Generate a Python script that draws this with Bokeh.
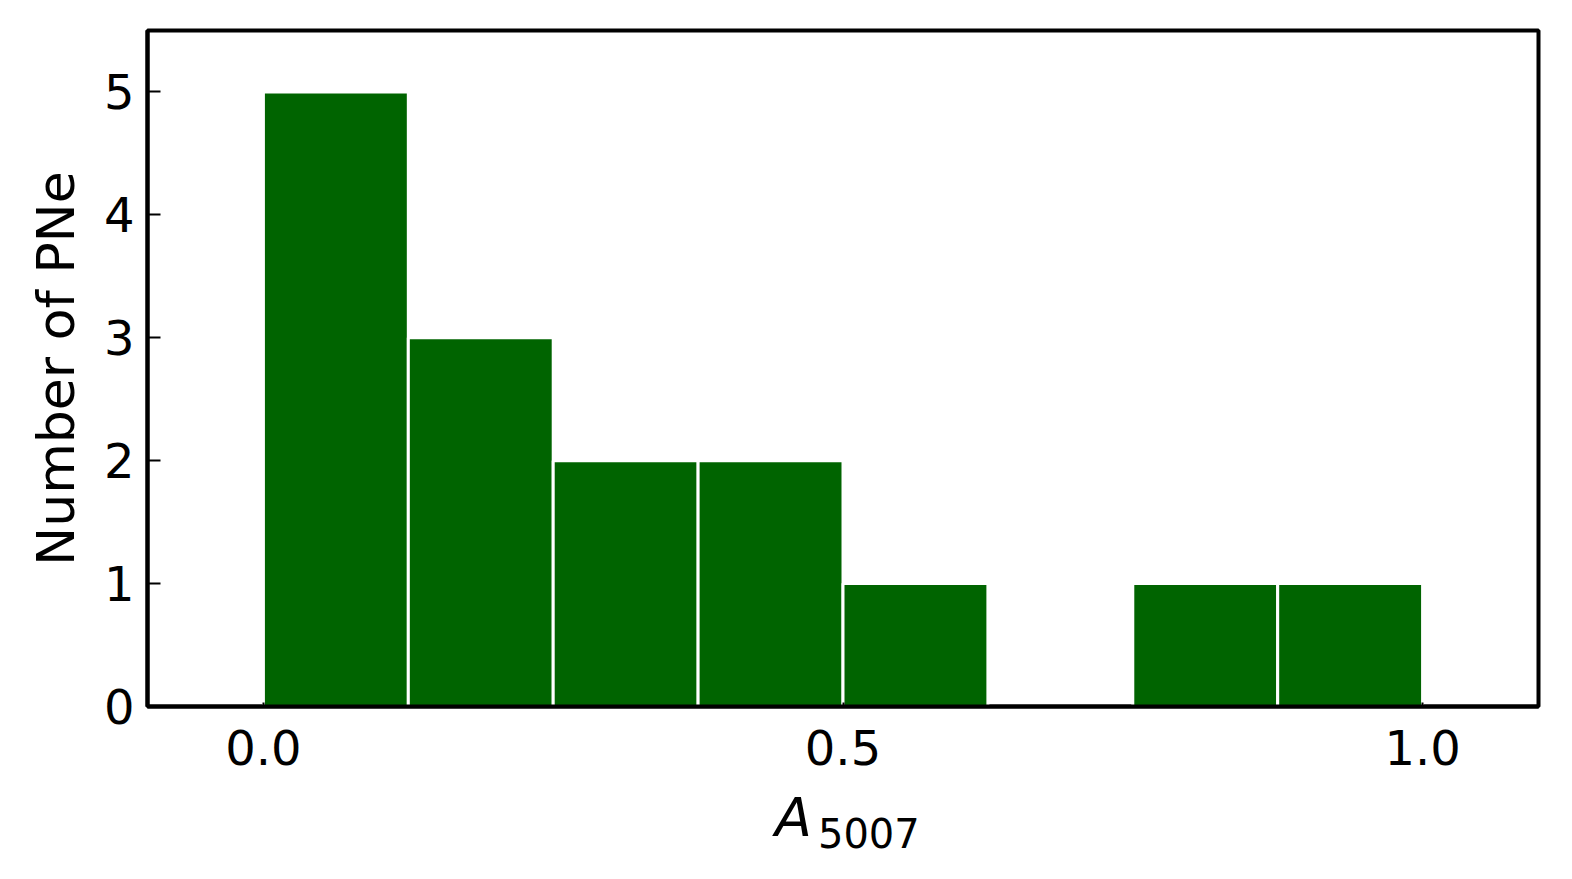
from bokeh.plotting import figure
from bokeh.layouts import column
from bokeh.models import Range1d, FixedTicker, PrintfTickFormatter, ColumnDataSource
from bokeh.core.properties import value
from bokeh.embed import file_html
from bokeh.resources import INLINE

# Histogram data (A_5007 bins)
bin_left = [0.0, 0.125, 0.25, 0.375, 0.5, 0.625, 0.75, 0.875]
bin_right = [0.125, 0.25, 0.375, 0.5, 0.625, 0.75, 0.875, 1.0]
counts = [5, 3, 2, 2, 1, 0, 1, 1]
x_ticks = [0.0, 0.5, 1.0]
y_ticks = [0, 1, 2, 3, 4, 5]

FONT = "DejaVu Sans"
X_RANGE = (-0.1, 1.1)
TOTAL_H = 863
TOP_H = 796
LAB_H = TOTAL_H - TOP_H
FRAME_BOTTOM = 706

p = figure(width=1556, height=TOP_H, output_backend="svg", toolbar_location=None,
           x_range=Range1d(*X_RANGE), y_range=Range1d(0, 5.5),
           min_border_left=147, min_border_right=18, min_border_top=30,
           min_border_bottom=TOP_H - FRAME_BOTTOM)

keep = [i for i, c in enumerate(counts) if c > 0]
src = ColumnDataSource(dict(
    left=[bin_left[i] for i in keep],
    right=[bin_right[i] for i in keep],
    top=[counts[i] for i in keep],
    bottom=[0] * len(keep),
))
p.quad(left="left", right="right", top="top", bottom="bottom", source=src,
       fill_color="#006400", line_color="white", line_width=3)

p.grid.visible = False
p.outline_line_color = "black"
p.outline_line_width = 4

for ax in (p.xaxis[0], p.yaxis[0]):
    ax.axis_line_width = 4
    ax.axis_line_color = "black"
    ax.major_tick_out = 0
    ax.minor_tick_in = 0
    ax.minor_tick_out = 0
    ax.major_tick_line_width = 2
    ax.major_tick_line_color = "black"
    ax.major_label_text_font = FONT
    ax.major_label_text_font_size = "48px"
    ax.major_label_text_color = "black"

p.xaxis[0].ticker = FixedTicker(ticks=x_ticks)
p.xaxis[0].formatter = PrintfTickFormatter(format="%.1f")
p.xaxis[0].major_tick_in = 4
p.xaxis[0].major_label_standoff = 23
p.xaxis[0].axis_label = None
p.xaxis[0].axis_label_standoff = 0

p.yaxis[0].ticker = FixedTicker(ticks=y_ticks)
p.yaxis[0].major_tick_in = 13
p.yaxis[0].major_label_standoff = 13
p.yaxis[0].axis_label = "Number of PNe"
p.yaxis[0].axis_label_text_font = FONT
p.yaxis[0].axis_label_text_font_size = "52px"
p.yaxis[0].axis_label_text_font_style = "normal"
p.yaxis[0].axis_label_text_color = "black"
p.yaxis[0].axis_label_standoff = 15

# x-axis label strip: italic "A" with subscript "5007", sharing the x scale
lab = figure(width=1556, height=LAB_H, output_backend="svg", toolbar_location=None,
             x_range=Range1d(*X_RANGE), y_range=Range1d(0, LAB_H),
             x_axis_type=None, y_axis_type=None,
             min_border_left=147, min_border_right=18, min_border_top=0, min_border_bottom=0)
lab.outline_line_color = None
lab.grid.visible = False
# glyph centres at page y 817 (A) and 832 (5007); the strip spans page y TOP_H..TOTAL_H
lab.text(x=[0.4413], y=[TOTAL_H - 817], text=["A"], text_font=value(FONT),
         text_font_size="54px", text_font_style="italic", text_align="left",
         text_baseline="middle", text_color="black")
lab.text(x=[0.4784], y=[TOTAL_H - 832], text=["5007"], text_font=value(FONT),
         text_font_size="40px", text_align="left", text_baseline="middle",
         text_color="black")

layout = column(p, lab, spacing=0)
open("out.html", "w").write(file_html(layout, INLINE))
